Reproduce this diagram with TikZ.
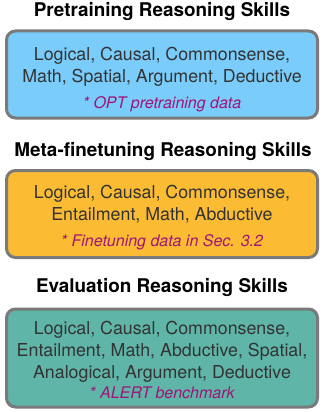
\documentclass[tikz,border=0pt]{standalone}
\usepackage{fontspec}
\setmainfont{TeX Gyre Heros}
\usepackage{tikz}
\usetikzlibrary{positioning}

\definecolor{pretrainblue}{RGB}{122,204,250}
\definecolor{finetuneorange}{RGB}{251,188,52}
\definecolor{evalteal}{RGB}{95,181,168}
\definecolor{boxgray}{RGB}{122,122,122}
\definecolor{skilltext}{RGB}{51,51,51}
\definecolor{notemagenta}{RGB}{160,20,120}

\tikzset{
  skillbox/.style={draw=boxgray, line width=3pt, rounded corners=9pt,
    minimum width=311pt, inner sep=0pt},
  skilltitle/.style={font=\fontsize{18.9}{20}\selectfont\bfseries},
  skills/.style={text=skilltext, align=center,
    font=\fontsize{17.8}{22}\selectfont},
  note/.style={text=notemagenta, font=\fontsize{16}{18}\selectfont\itshape},
}

\begin{document}
\begin{tikzpicture}[x=1pt, y=-1pt]
  \useasboundingbox[fill=white] (0,0) rectangle (322,412);

  % pretraining
  \node[skilltitle] (pretitle) at (162,12) {Pretraining Reasoning Skills};
  \node[skillbox, fill=pretrainblue, minimum height=87pt] (prebox) at (162,74.5) {};
  \node[skills] (preskills) at (162,66.5) {Logical, Causal, Commonsense,\\Math, Spatial, Argument, Deductive};
  \node[note] (prenote) at (162,104) {* OPT pretraining data};

  % meta-finetuning
  \node[skilltitle] (metatitle) at (163,152) {Meta-finetuning Reasoning Skills};
  \node[skillbox, fill=finetuneorange, minimum height=87pt] (metabox) at (162,214) {};
  \node[skills] (metaskills) at (162,204.5) {Logical, Causal, Commonsense,\\Entailment, Math, Abductive};
  \node[note] (metanote) at (162,242.5) {* Finetuning data in Sec. 3.2};

  % evaluation
  \node[skilltitle] (evaltitle) at (162,288) {Evaluation Reasoning Skills};
  \node[skillbox, fill=evalteal, minimum height=98pt] (evalbox) at (162,358) {};
  \node[skills] (evalskills) at (162,352) {Logical, Causal, Commonsense,\\Entailment, Math, Abductive, Spatial,\\Analogical, Argument, Deductive};
  \node[note] (evalnote) at (162,393) {* ALERT benchmark};
\end{tikzpicture}
\end{document}
